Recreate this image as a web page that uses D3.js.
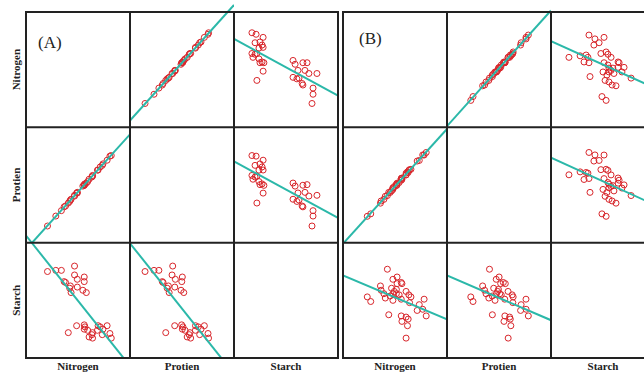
<!DOCTYPE html>
<html>
<head>
<meta charset="utf-8">
<script src="https://cdn.jsdelivr.net/npm/d3@7"></script>
<style>
  html, body { margin: 0; padding: 0; background: #fff; }
  svg { display: block; }
  .lbl { font-family: "Liberation Serif", "DejaVu Serif", serif; font-weight: bold; font-size: 11px; fill: #222; }
  .tag { font-family: "Liberation Serif", "DejaVu Serif", serif; font-size: 17px; fill: #222; }
</style>
</head>
<body>
<div id="chart"></div>
<script>
// variable names as printed in the figure
const varNames = ['Nitrogen', 'Protien', 'Starch'];

// panel (A) samples
const nitrogenA = [2.23, 2.21, 2.17, 2.11, 2.10, 2.07, 2.04, 2.03, 1.96, 1.95, 1.96, 1.91, 1.89, 1.85, 1.84, 1.84, 1.73, 1.61,
  1.87, 1.82, 1.84, 1.84, 1.74, 1.74, 1.70, 1.70, 1.65, 1.63, 1.64, 1.57, 1.55, 1.51, 1.43, 1.31];
const protienA = [13.90, 13.85, 13.52, 13.22, 13.10, 12.97, 12.72, 12.71, 12.28, 12.15, 12.22, 11.97, 11.78, 11.59, 11.47, 11.53, 10.84, 10.03,
  11.66, 11.41, 11.48, 11.53, 10.85, 10.90, 10.60, 10.66, 10.34, 10.16, 10.27, 9.79, 9.72, 9.41, 8.97, 8.16];
const starchA = [36.9, 38.5, 41.2, 40.0, 38.1, 40.8, 41.2, 39.6, 36.9, 38.1, 38.8, 37.3, 39.6, 40.8, 41.5, 40.0, 41.2, 38.8,
  52.7, 53.5, 56.5, 58.1, 54.6, 57.3, 58.8, 61.9, 52.7, 54.2, 55.0, 56.2, 56.5, 60.4, 60.4, 60.0];

// panel (B) samples
const nitrogenB = [2.20, 2.15, 2.17, 2.07, 2.10, 1.91, 1.93, 1.94, 1.91, 1.85, 1.84, 1.96, 1.98, 1.95, 1.91, 1.84, 1.81, 1.77, 1.77,
  1.85, 1.84, 1.78, 1.78, 1.72, 1.64, 1.72, 1.72, 1.68, 1.61, 1.59, 1.55, 1.54, 1.66, 1.40, 1.35, 1.74, 1.70];
const protienB = [13.70, 13.50, 13.49, 13.00, 13.05, 11.88, 12.12, 12.07, 12.01, 11.50, 11.58, 12.30, 12.33, 12.24, 11.87, 11.57, 11.25, 11.12, 11.00,
  11.62, 11.44, 11.20, 11.06, 10.80, 10.19, 10.69, 10.82, 10.44, 10.13, 9.88, 9.75, 9.57, 10.45, 8.70, 8.50, 10.93, 10.57];
const starchB = [44.6, 46.9, 50.4, 46.5, 48.5, 36.9, 41.2, 43.5, 44.2, 42.7, 44.6, 49.2, 51.2, 51.9, 53.1, 50.4, 51.9, 52.3, 53.8,
  55.8, 56.2, 55.8, 58.1, 57.3, 60.8, 50.0, 52.3, 51.5, 50.8, 52.3, 53.5, 55.0, 45.0, 49.6, 51.2, 53.1, 54.2];

// axis ranges for each variable (Nitrogen, Protien, Starch)
const domainsA = [[1.0, 2.5], [6.8, 16.2], [30, 70]];
const domainsB = [[1.0, 2.5], [6.35, 15.75], [30, 70]];

const width = 644, height = 374;
const rowTops = [12, 127.3, 242.7, 358];
const colW = 104;

const svg = d3.select('#chart').append('svg')
  .attr('width', width)
  .attr('height', height);

svg.append('rect').attr('width', width).attr('height', height).attr('fill', '#fff');

function fit(xs, ys) {
  const mx = d3.mean(xs), my = d3.mean(ys);
  let sxy = 0, sxx = 0;
  xs.forEach((x, i) => { sxy += (x - mx) * (ys[i] - my); sxx += (x - mx) * (x - mx); });
  const b = sxy / sxx;
  return { b, a: my - b * mx };
}

function drawPanel(id, left, cols, domains, tag, tagPos, yLabels) {
  const g = svg.append('g');
  const n = cols.length;

  for (let r = 0; r < n; r++) {
    for (let c = 0; c < n; c++) {
      if (r === c) continue;
      const x0 = left + c * colW;
      const y0 = rowTops[r], y1 = rowTops[r + 1];
      const x = d3.scaleLinear().domain(domains[c]).range([x0, x0 + colW]);
      const y = d3.scaleLinear().domain(domains[r]).range([y1, y0]);

      const clipId = `clip-${id}-${r}-${c}`;
      svg.append('clipPath').attr('id', clipId)
        .append('rect')
        .attr('x', x0).attr('y', y0 - 8)
        .attr('width', colW).attr('height', y1 - y0 + 8);

      const cell = g.append('g');
      const pts = cols[c].map((v, i) => [v, cols[r][i]]);

      cell.selectAll('circle')
        .data(pts)
        .join('circle')
        .attr('cx', d => x(d[0]))
        .attr('cy', d => y(d[1]))
        .attr('r', 3)
        .attr('fill', 'none')
        .attr('stroke', '#d8262b')
        .attr('stroke-width', 1);

      // least squares line, row variable on column variable
      const { a, b } = fit(cols[c], cols[r]);
      cell.append('line')
        .attr('clip-path', `url(#${clipId})`)
        .attr('x1', x(domains[c][0]))
        .attr('y1', y(a + b * domains[c][0]))
        .attr('x2', x(domains[c][1]))
        .attr('y2', y(a + b * domains[c][1]))
        .attr('stroke', '#2bb8a9')
        .attr('stroke-width', 2);
    }
  }

  // cell borders
  const right = left + n * colW;
  g.append('rect')
    .attr('x', left).attr('y', rowTops[0])
    .attr('width', n * colW).attr('height', rowTops[n] - rowTops[0])
    .attr('fill', 'none').attr('stroke', '#222').attr('stroke-width', 2);
  for (let c = 1; c < n; c++) {
    g.append('line')
      .attr('x1', left + c * colW).attr('x2', left + c * colW)
      .attr('y1', rowTops[0]).attr('y2', rowTops[n])
      .attr('stroke', '#222').attr('stroke-width', 2);
  }
  for (let r = 1; r < n; r++) {
    g.append('line')
      .attr('x1', left).attr('x2', right)
      .attr('y1', rowTops[r]).attr('y2', rowTops[r])
      .attr('stroke', '#222').attr('stroke-width', 2);
  }

  // bottom labels
  varNames.forEach((name, c) => {
    g.append('text').attr('class', 'lbl')
      .attr('x', left + c * colW + colW / 2)
      .attr('y', 370)
      .attr('text-anchor', 'middle')
      .text(name);
  });

  if (yLabels) {
    varNames.forEach((name, r) => {
      const cy = (rowTops[r] + rowTops[r + 1]) / 2;
      g.append('text').attr('class', 'lbl')
        .attr('transform', `translate(20,${cy}) rotate(-90)`)
        .attr('text-anchor', 'middle')
        .text(name);
    });
  }

  g.append('text').attr('class', 'tag')
    .attr('x', tagPos[0]).attr('y', tagPos[1])
    .text(tag);
}

drawPanel('a', 26, [nitrogenA, protienA, starchA], domainsA, '(A)', [38, 48], true);
drawPanel('b', 343, [nitrogenB, protienB, starchB], domainsB, '(B)', [359, 44], false);
</script>
</body>
</html>
